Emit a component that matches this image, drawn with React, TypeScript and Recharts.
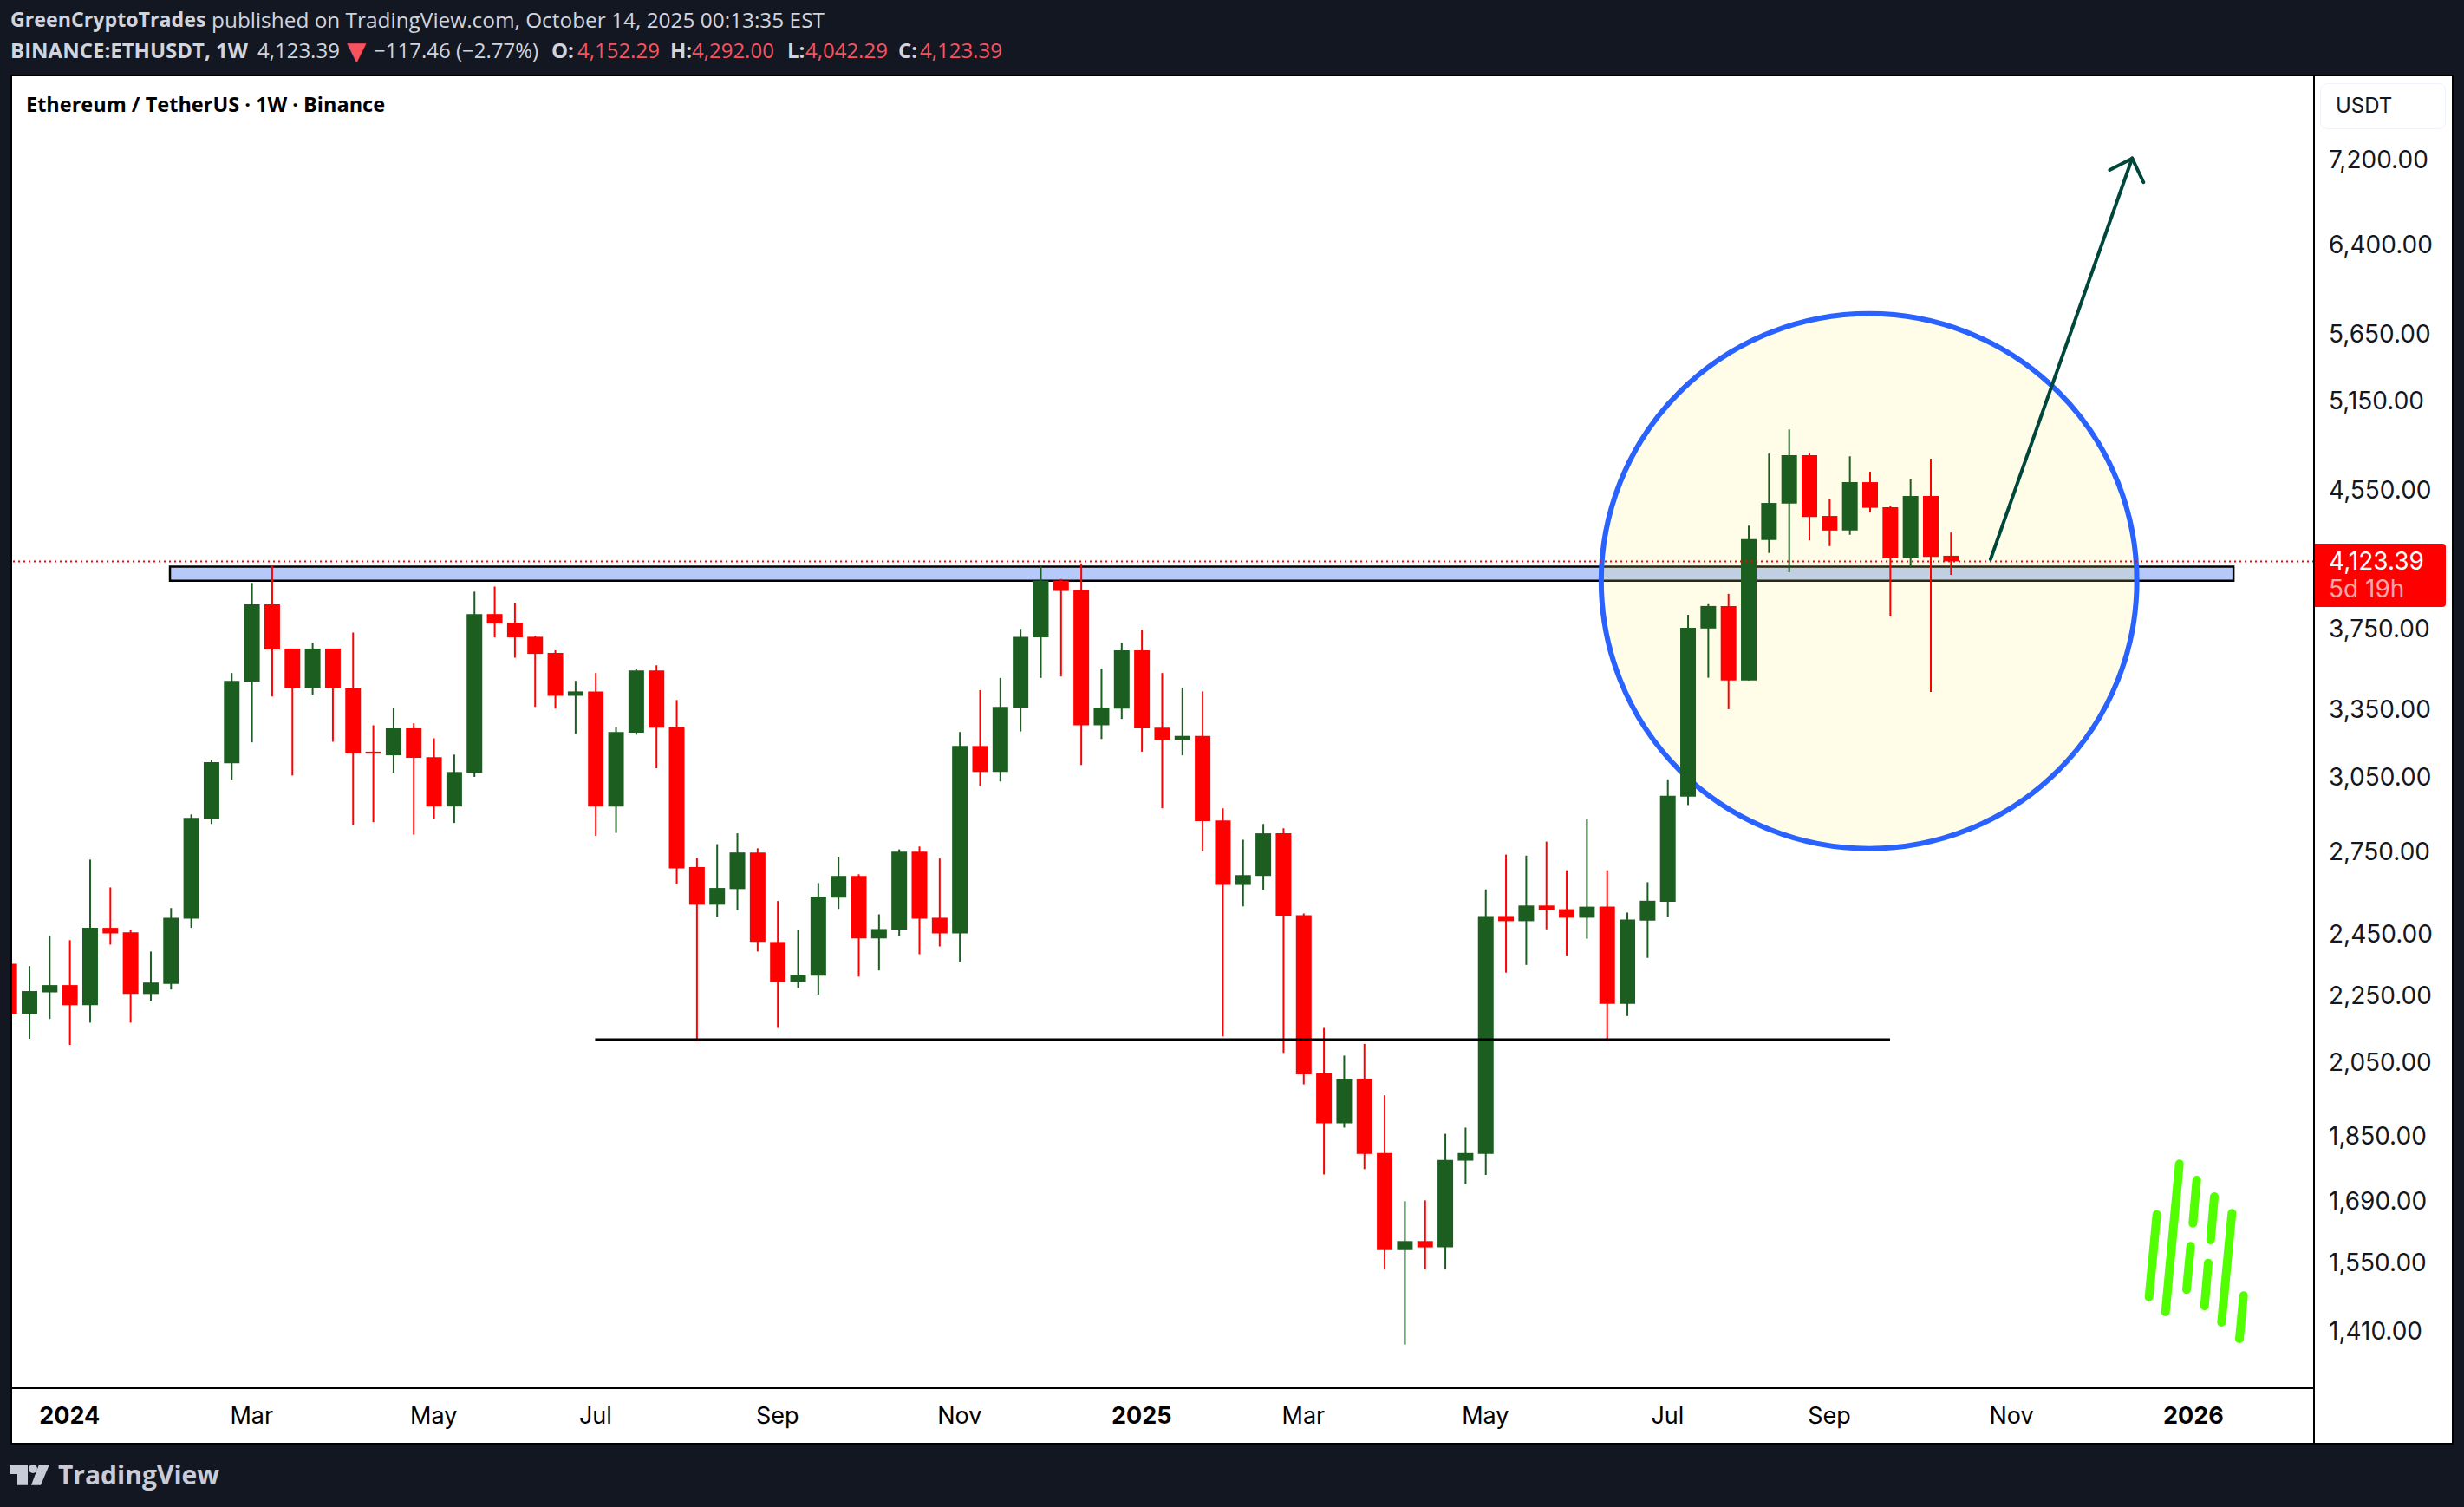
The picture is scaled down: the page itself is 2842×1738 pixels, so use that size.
import {
  Bar,
  Cell,
  ComposedChart,
  ReferenceArea,
  ReferenceLine,
  XAxis,
  YAxis
} from "recharts";

// weekly candles, first one is the week of Dec 11 2023 (week index -3)
const OPENS = [
  2347, 2189, 2255, 2278, 2215, 2467, 2452, 2250, 2282, 2499, 2872, 3103, 3476, 3871, 3640, 3443,
  3640, 3447, 3153, 3137, 3257, 3129, 2921, 3062, 3819, 3773, 3700, 3618, 3408, 3429, 2921, 3237,
  3530, 3263, 2685, 2548, 2604, 2740, 2419, 2288, 2308, 2573, 2652, 2431, 2461, 2743, 2502, 2448,
  3178, 3065, 3353, 3697, 4001, 3950, 3271, 3348, 3631, 3260, 3205, 3223, 2865, 2619, 2652, 2814,
  2511, 2015, 1879, 2000, 1803, 1575, 1595, 1581, 1784, 1801, 2508, 2490, 2545, 2532, 2502, 2541,
  2219, 2492, 2558, 2962, 3743, 3862, 3482, 4234, 4454, 4764, 4378, 4290, 4589, 4431, 4127, 4501,
  4142
];
const HIGHS = [
  2388, 2339, 2440, 2425, 2713, 2610, 2461, 2387, 2536, 2889, 3118, 3518, 3988, 4085, 3640, 3669,
  3640, 3722, 3271, 3353, 3280, 3212, 3140, 3940, 3968, 3879, 3706, 3631, 3480, 3518, 3263, 3539,
  3556, 3388, 2720, 2772, 2814, 2756, 2561, 2461, 2626, 2724, 2658, 2514, 2752, 2763, 2717, 3240,
  3435, 3494, 3741, 4081, 4010, 4098, 3539, 3669, 3737, 3518, 3447, 3429, 2914, 2789, 2851, 2834,
  2517, 2146, 2065, 2099, 1954, 1686, 1688, 1852, 1868, 2603, 2732, 2728, 2782, 2673, 2869, 2673,
  2520, 2629, 3034, 3815, 3872, 3928, 4319, 4775, 4938, 4782, 4481, 4757, 4656, 4439, 4607, 4742,
  4278
];
const LOWS = [
  2161, 2114, 2173, 2096, 2162, 2410, 2162, 2229, 2264, 2467, 2851, 3032, 3194, 3405, 3050, 3414,
  3197, 2848, 2858, 3062, 2809, 2872, 2855, 3044, 3697, 3594, 3356, 3348, 3232, 2804, 2816, 3228,
  3081, 2623, 2107, 2505, 2529, 2387, 2146, 2269, 2248, 2533, 2305, 2325, 2440, 2378, 2404, 2353,
  3006, 3025, 3243, 3494, 3501, 3095, 3209, 3300, 3153, 2914, 3137, 2745, 2121, 2542, 2601, 2073,
  1984, 1750, 1868, 1763, 1533, 1381, 1533, 1533, 1727, 1749, 2318, 2343, 2462, 2374, 2430, 2108,
  2182, 2366, 2506, 2927, 3495, 3345, 3482, 4158, 4048, 4232, 4198, 4265, 4401, 3806, 4073, 3427,
  4033
];
const CLOSES = [
  2189, 2259, 2278, 2215, 2467, 2448, 2250, 2286, 2502, 2875, 3107, 3480, 3871, 3635, 3443, 3640,
  3443, 3145, 3145, 3257, 3126, 2921, 3065, 3819, 3769, 3697, 3613, 3408, 3429, 2921, 3240, 3530,
  3260, 2680, 2548, 2608, 2740, 2419, 2288, 2311, 2577, 2652, 2431, 2463, 2743, 2499, 2448, 3178,
  3065, 3356, 3700, 4001, 3944, 3271, 3353, 3631, 3257, 3205, 3223, 2862, 2619, 2655, 2814, 2509,
  2012, 1879, 2000, 1801, 1575, 1595, 1581, 1786, 1803, 2508, 2490, 2545, 2529, 2502, 2541, 2219,
  2496, 2562, 2965, 3747, 3862, 3482, 4239, 4458, 4764, 4372, 4290, 4589, 4428, 4127, 4501, 4136,
  4110
];

const X_TICKS = [0, 9, 18, 26, 35, 44, 53, 61, 70, 79, 87, 96, 105];
const X_LABELS = ["2024", "Mar", "May", "Jul", "Sep", "Nov", "2025", "Mar", "May", "Jul", "Sep", "Nov", "2026"];
const Y_TICKS = [7200, 6400, 5650, 5150, 4550, 3750, 3350, 3050, 2750, 2450, 2250, 2050, 1850, 1690, 1550, 1410];

// where the dotted last price line sits, read on the same scale as the candles
const LAST_PRICE_LINE = 4109;
const X_DOMAIN = [-2.842, 110.96];
const Y_DOMAIN = [1299.5, 8085];

// drawings, in week index / price
const ZONE_WEEKS = [4.96, 106.98];
const ZONE_PRICES = [4000, 4080];
const CIRCLE_WEEKS = [75.72, 102.2];
const CIRCLE_PRICES = [2755, 5802];
const SUPPORT_WEEKS = [25.98, 90];
const SUPPORT_PRICE = 2112;
const ARROW_WEEKS = [94.97, 101.97, 100.86, 102.53];
const ARROW_PRICES = [4122, 7203, 7088, 6967];

const UP = "#1b5e20";
const DOWN = "#ff0000";
const BG = "#131722";
const QUOTE = "#f7525f";
const HEAD = "#d1d4dc";
const ARROW = "#00473b";
const FONT = "Inter, sans-serif";
const HEAD_FONT = "'Open Sans', sans-serif";

const candles = OPENS.map((open, i) => ({
  week: i - 3,
  wick: [LOWS[i], HIGHS[i]],
  body: [Math.min(open, CLOSES[i]), Math.max(open, CLOSES[i])],
  up: CLOSES[i] >= open
}));

const WIDTH = 2842;
const HEIGHT = 1738;
const labelOf = (week: number) => X_LABELS[X_TICKS.indexOf(week)];

function TimeTick({ x, y, payload }: any) {
  const label = labelOf(payload.value);
  const isYear = label.startsWith("20");
  return (
    <text
      x={x}
      y={y + 33}
      textAnchor="middle"
      fontFamily={FONT}
      fontSize={27}
      fontWeight={isYear ? 700 : 400}
      fill="#000"
    >
      {label}
    </text>
  );
}

function CircleShape({ x, y, width, height }: any) {
  return (
    <ellipse
      cx={x + width / 2}
      cy={y + height / 2}
      rx={width / 2}
      ry={height / 2}
      fill="rgba(255,240,110,0.17)"
      stroke="#2962ff"
      strokeWidth={6}
    />
  );
}

function Watermark() {
  const strokes = [
    [2487.7, 1400.7, 2478.7, 1495.7],
    [2513.7, 1342.3, 2497.7, 1513],
    [2533.7, 1361, 2529.3, 1410.7],
    [2526.7, 1437.3, 2522, 1487.3],
    [2554, 1380, 2549.7, 1430],
    [2547, 1456.7, 2542.7, 1506],
    [2574.3, 1399.3, 2562.3, 1525],
    [2587.7, 1494.3, 2583, 1544]
  ];
  return (
    <svg width={WIDTH} height={HEIGHT} style={{ position: "absolute", left: 0, top: 0, pointerEvents: "none" }}>
      {strokes.map((s, i) => (
        <line key={i} x1={s[0]} y1={s[1]} x2={s[2]} y2={s[3]} stroke="#52ff00" strokeWidth={10} strokeLinecap="round" />
      ))}
      <polygon points="12,1689 32,1689 32,1712.7 20,1712.7 20,1700 12,1700" fill="#c9ccd6" />
      <circle cx={38} cy={1694} r={5} fill="#c9ccd6" />
      <polygon points="36,1712.7 47,1712.7 57,1689 45,1689" fill="#c9ccd6" />
    </svg>
  );
}

const textAt = (left: number, top: number, size: number, color: string) =>
  ({
    position: "absolute",
    left,
    top,
    fontSize: size,
    color,
    whiteSpace: "nowrap",
    lineHeight: 1
  }) as const;

export default function App() {
  return (
    <div style={{ position: "absolute", left: 0, top: 0, width: WIDTH, height: HEIGHT, background: BG, overflow: "hidden", fontFamily: HEAD_FONT }}>
      <div style={{ ...textAt(12, 11, 23.2, HEAD), fontWeight: 700 }}>GreenCryptoTrades</div>
      <div style={textAt(244, 11, 24.4, HEAD)}>published on TradingView.com, October 14, 2025 00:13:35 EST</div>

      <div style={{ ...textAt(12, 46, 24, HEAD), fontWeight: 700 }}>BINANCE:ETHUSDT, 1W</div>
      <div style={textAt(297, 46, 24, HEAD)}>4,123.39</div>
      <div style={{ ...textAt(400, 45, 29, QUOTE), fontFamily: "'DejaVu Sans'" }}>▼</div>
      <div style={textAt(431, 46, 24, HEAD)}>−117.46 (−2.77%)</div>
      <div style={{ ...textAt(636, 46, 24, HEAD), fontWeight: 700 }}>O:</div>
      <div style={textAt(666, 46, 24, QUOTE)}>4,152.29</div>
      <div style={{ ...textAt(773, 46, 24, HEAD), fontWeight: 700 }}>H:</div>
      <div style={textAt(798, 46, 24, QUOTE)}>4,292.00</div>
      <div style={{ ...textAt(908, 46, 24, HEAD), fontWeight: 700 }}>L:</div>
      <div style={textAt(929, 46, 24, QUOTE)}>4,042.29</div>
      <div style={{ ...textAt(1036, 46, 24, HEAD), fontWeight: 700 }}>C:</div>
      <div style={textAt(1061, 46, 24, QUOTE)}>4,123.39</div>

      <div style={{ position: "absolute", left: 12, top: 86, width: 2818, height: 1580, boxSizing: "border-box", background: "#fff", border: "2px solid #000" }} />

      <ComposedChart
        width={WIDTH}
        height={HEIGHT}
        data={candles}
        margin={{ top: 87, right: 14, bottom: 73, left: 14 }}
        style={{ position: "absolute", left: 0, top: 0 }}
      >
        <XAxis
          xAxisId="body"
          type="number"
          dataKey="week"
          domain={X_DOMAIN}
          allowDataOverflow
          ticks={X_TICKS}
          interval={0}
          height={64}
          tick={<TimeTick />}
          tickLine={false}
          axisLine={{ stroke: "#000", strokeWidth: 2 }}
        />
        <XAxis xAxisId="wick" type="number" dataKey="week" domain={X_DOMAIN} allowDataOverflow ticks={X_TICKS} hide height={0} />
        <YAxis
          orientation="right"
          scale="log"
          domain={Y_DOMAIN}
          allowDataOverflow
          ticks={Y_TICKS}
          interval={0}
          width={159}
          tickLine={false}
          tickMargin={11}
          tick={{ fontFamily: FONT, fontSize: 28, fill: "#131722", dy: 1.5 }}
          tickFormatter={(value: number) =>
            value.toLocaleString("en-US", { minimumFractionDigits: 2, maximumFractionDigits: 2 })
          }
          axisLine={{ stroke: "#000", strokeWidth: 2 }}
        />

        <ReferenceArea
          xAxisId="body"
          x1={ZONE_WEEKS[0]}
          x2={ZONE_WEEKS[1]}
          y1={ZONE_PRICES[0]}
          y2={ZONE_PRICES[1]}
          fill="#b5c9fb"
          fillOpacity={1}
          stroke="#000"
          strokeWidth={2.5}
        />
        <ReferenceArea
          xAxisId="body"
          x1={CIRCLE_WEEKS[0]}
          x2={CIRCLE_WEEKS[1]}
          y1={CIRCLE_PRICES[0]}
          y2={CIRCLE_PRICES[1]}
          shape={<CircleShape />}
        />

        <Bar xAxisId="wick" dataKey="wick" barSize={2} isAnimationActive={false}>
          {candles.map((c) => (
            <Cell key={c.week} fill={c.up ? UP : DOWN} />
          ))}
        </Bar>
        <Bar xAxisId="body" dataKey="body" barSize={18} isAnimationActive={false}>
          {candles.map((c) => (
            <Cell key={c.week} fill={c.up ? UP : DOWN} />
          ))}
        </Bar>

        <ReferenceLine
          xAxisId="body"
          segment={[
            { x: SUPPORT_WEEKS[0], y: SUPPORT_PRICE },
            { x: SUPPORT_WEEKS[1], y: SUPPORT_PRICE }
          ]}
          stroke="#000"
          strokeWidth={2.5}
        />
        <ReferenceLine xAxisId="body" y={LAST_PRICE_LINE} stroke={DOWN} strokeWidth={2} strokeDasharray="2 4" />
        <ReferenceLine
          xAxisId="body"
          segment={[
            { x: ARROW_WEEKS[0], y: ARROW_PRICES[0] },
            { x: ARROW_WEEKS[1], y: ARROW_PRICES[1] }
          ]}
          stroke={ARROW}
          strokeWidth={4}
          strokeLinecap="round"
        />
        <ReferenceLine
          xAxisId="body"
          segment={[
            { x: ARROW_WEEKS[2], y: ARROW_PRICES[2] },
            { x: ARROW_WEEKS[1], y: ARROW_PRICES[1] }
          ]}
          stroke={ARROW}
          strokeWidth={4}
          strokeLinecap="round"
        />
        <ReferenceLine
          xAxisId="body"
          segment={[
            { x: ARROW_WEEKS[3], y: ARROW_PRICES[3] },
            { x: ARROW_WEEKS[1], y: ARROW_PRICES[1] }
          ]}
          stroke={ARROW}
          strokeWidth={4}
          strokeLinecap="round"
        />
      </ComposedChart>

      <Watermark />

      {/* lower part of the price axis divider */}
      <div style={{ position: "absolute", left: 2668, top: 1600, width: 2, height: 64, background: "#000" }} />

      <div style={{ ...textAt(30, 109, 23.5, "#000"), fontWeight: 700 }}>Ethereum / TetherUS · 1W · Binance</div>

      <div style={{ position: "absolute", left: 2676, top: 96, width: 145, height: 53, boxSizing: "border-box", border: "1px solid #f0f3fa", borderRadius: 8 }} />
      <div style={{ ...textAt(2694, 110, 24, "#131722"), fontFamily: FONT }}>USDT</div>

      <div style={{ position: "absolute", left: 2670, top: 627, width: 151, height: 73, background: DOWN, borderRadius: "0 4px 4px 0" }} />
      <div style={{ ...textAt(2686, 633, 28, "#fff"), fontFamily: FONT }}>4,123.39</div>
      <div style={{ ...textAt(2686, 665, 28, "#ffa6a6"), fontFamily: FONT }}>5d 19h</div>

      <div style={{ ...textAt(67, 1686, 30, "#c9ccd6"), fontWeight: 700 }}>TradingView</div>
    </div>
  );
}
